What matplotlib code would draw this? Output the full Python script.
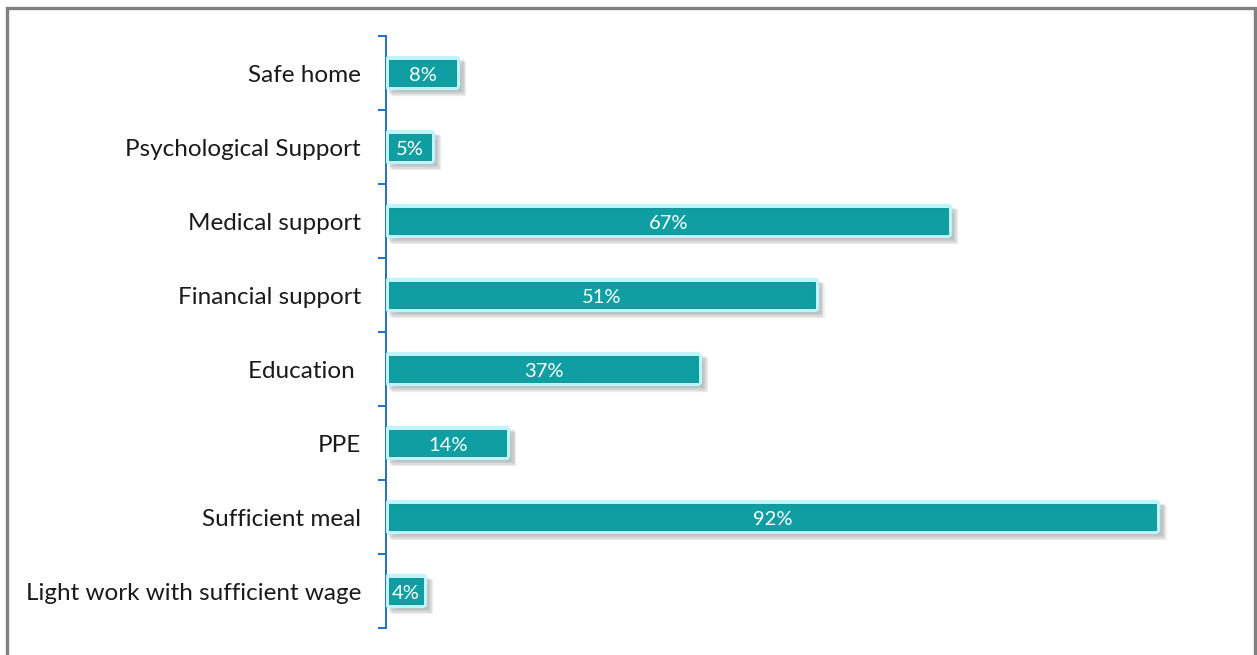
import matplotlib
matplotlib.use("Agg")
import matplotlib.pyplot as plt
import matplotlib.patheffects as pe
from matplotlib.patches import Rectangle

categories = ["Safe home", "Psychological Support", "Medical support", "Financial support",
              "Education ", "PPE", "Sufficient meal", "Light work with sufficient wage"]
values = [8, 5, 67, 51, 37, 14, 92, 4]
value_labels = [f"{v}%" for v in values]

W, H, DPI = 1257, 655, 100
fig = plt.figure(figsize=(W / DPI, H / DPI), dpi=DPI)
fig.patch.set_facecolor("white")

ax_left, ax_right = 386 / W, 1223 / W
ax_top, ax_bottom = 1 - 36 / H, 1 - 628 / H
ax = fig.add_axes([ax_left, ax_bottom, ax_right - ax_left, ax_top - ax_bottom])

teal = "#0f9ea1"
glow = "#bff5fa"
axis_blue = "#1f6fc8"

n = len(categories)
ypos = list(range(n))[::-1]

bars = ax.barh(ypos, values, height=0.35, color=teal, edgecolor="#0b8d90", linewidth=0.6, zorder=3)
for b in bars:
    b.set_path_effects([
        pe.Stroke(offset=(4.5, -4.5), linewidth=6, foreground="#000000", alpha=0.06),
        pe.Stroke(offset=(3.5, -3.5), linewidth=6, foreground="#000000", alpha=0.08),
        pe.Stroke(offset=(2.5, -2.5), linewidth=6, foreground="#000000", alpha=0.08),
        pe.Stroke(linewidth=6, foreground=glow, joinstyle="round"),
        pe.Normal(),
    ])

for y, v, lab in zip(ypos, values, value_labels):
    ax.text(v / 2, y - 0.03, lab, ha="center", va="center", color="white",
            fontsize=14.5, family="Lato", zorder=5)

ax.set_xlim(-0.4, 100)
ax.set_ylim(-0.5, n - 0.5)

ax.set_yticks(ypos)
ax.set_yticklabels(categories, fontsize=17.5, family="Lato", color="#1a1a1a")
ax.tick_params(axis="y", which="major", length=0, pad=18)
ax.set_yticks([i - 0.5 for i in range(n + 1)], minor=True)
ax.tick_params(axis="y", which="minor", length=6, width=1.4, color=axis_blue)
ax.set_xticks([])

for side in ("top", "right", "bottom"):
    ax.spines[side].set_visible(False)
ax.spines["left"].set_color(axis_blue)
ax.spines["left"].set_linewidth(1.4)
ax.set_facecolor("none")

# outer frame running off the bottom edge
frame = Rectangle((7 / W, -0.05), (1255 - 7) / W, 1.05 - 8 / H,
                  transform=fig.transFigure, fill=False,
                  edgecolor="#808080", linewidth=2.4, zorder=10)
fig.add_artist(frame)

fig.savefig("out.png", dpi=DPI, facecolor="white")
